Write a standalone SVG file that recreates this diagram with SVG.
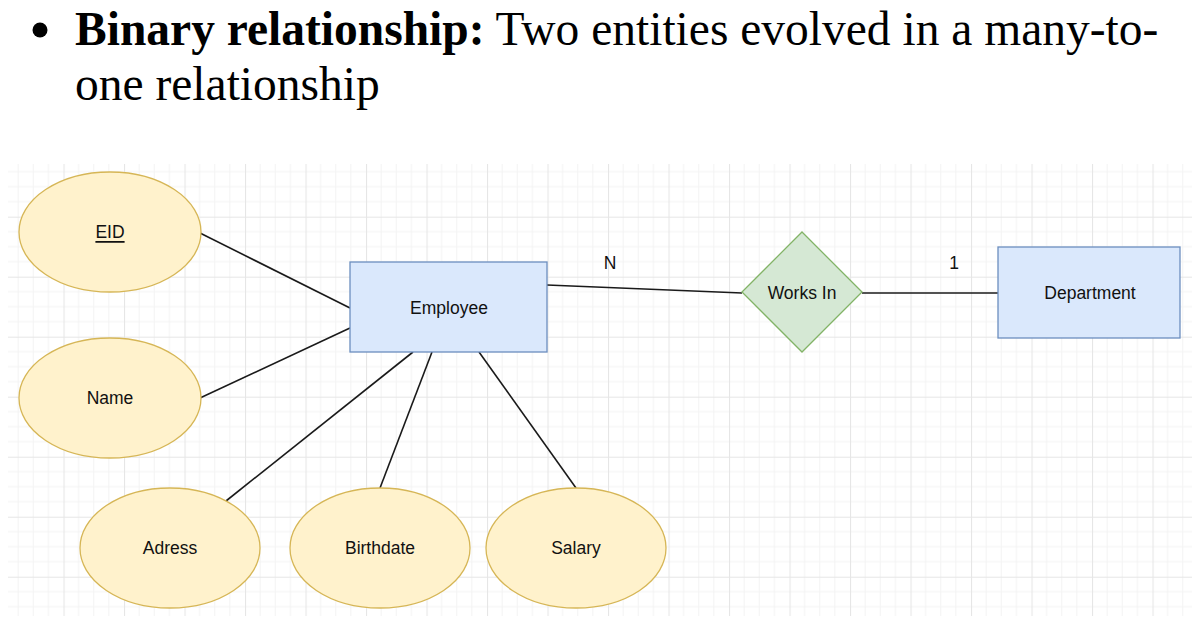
<svg xmlns="http://www.w3.org/2000/svg" width="1199" height="627" viewBox="0 0 1199 627">
  <defs>
    <pattern id="grid" x="3" y="156.7" width="60.5" height="60" patternUnits="userSpaceOnUse">
      <path d="M15.1 0V60M30.25 0V60M45.4 0V60M0 15H60.5M0 30H60.5M0 45H60.5" stroke="#f3f3f3" stroke-width="1" fill="none"/>
      <path d="M0.5 0V60M0 0.5H60.5" stroke="#e6e6e6" stroke-width="1.2" fill="none"/>
    </pattern>
  </defs>
  <style>
    .attr { fill: #fff2cc; stroke: #d6b656; stroke-width: 1.3; }
    .ent { fill: #dae8fc; stroke: #6c8ebf; stroke-width: 1.3; }
    .rel { fill: #d5e8d4; stroke: #82b366; stroke-width: 1.3; }
    .lbl { font-family: "Liberation Sans", Arial, sans-serif; font-size: 17.5px; fill: #111; text-anchor: middle; dominant-baseline: central; }
    .conn line { stroke: #1a1a1a; stroke-width: 1.6; }
    .title { font-family: "Liberation Serif", "Times New Roman", serif; font-size: 47.5px; fill: #000; }
  </style>
  <rect width="1199" height="627" fill="#ffffff"/>
  <rect x="8" y="164" width="1184" height="452" fill="url(#grid)"/>

  <g id="title">
    <circle cx="40" cy="30" r="7.5" fill="#000"/>
    <text class="title" x="75" y="45"><tspan font-weight="bold">Binary relationship:</tspan> Two entities evolved in a many-to-</text>
    <text class="title" x="75" y="100">one relationship</text>
  </g>

  <g id="connectors" class="conn">
    <line x1="200" y1="233" x2="350" y2="308"/>
    <line x1="200" y1="398" x2="350" y2="328"/>
    <line x1="226" y1="501" x2="413" y2="352"/>
    <line x1="380" y1="488" x2="432" y2="352"/>
    <line x1="576" y1="488" x2="479" y2="352"/>
    <line x1="547" y1="285" x2="742" y2="293"/>
    <line x1="862" y1="293" x2="998" y2="293"/>
  </g>

  <g id="eid">
    <ellipse class="attr" cx="110" cy="232" rx="91" ry="60"/>
    <text class="lbl" x="110" y="232" text-decoration="underline">EID</text>
  </g>
  <g id="name">
    <ellipse class="attr" cx="110" cy="398" rx="91" ry="60"/>
    <text class="lbl" x="110" y="398">Name</text>
  </g>
  <g id="adress">
    <ellipse class="attr" cx="170" cy="548" rx="90" ry="60"/>
    <text class="lbl" x="170" y="548">Adress</text>
  </g>
  <g id="birthdate">
    <ellipse class="attr" cx="380" cy="548" rx="90" ry="60"/>
    <text class="lbl" x="380" y="548">Birthdate</text>
  </g>
  <g id="salary">
    <ellipse class="attr" cx="576" cy="548" rx="90" ry="60"/>
    <text class="lbl" x="576" y="548">Salary</text>
  </g>
  <g id="employee">
    <rect class="ent" x="350" y="262" width="197" height="90"/>
    <text class="lbl" x="449" y="308">Employee</text>
  </g>
  <g id="works-in">
    <polygon class="rel" points="802,232 862,292 802,352 742,292"/>
    <text class="lbl" x="802" y="293">Works In</text>
  </g>
  <g id="department">
    <rect class="ent" x="998" y="247" width="182" height="91"/>
    <text class="lbl" x="1090" y="293">Department</text>
  </g>
  <g id="cardinality">
    <text class="lbl" x="610" y="263">N</text>
    <text class="lbl" x="954" y="263">1</text>
  </g>
</svg>
